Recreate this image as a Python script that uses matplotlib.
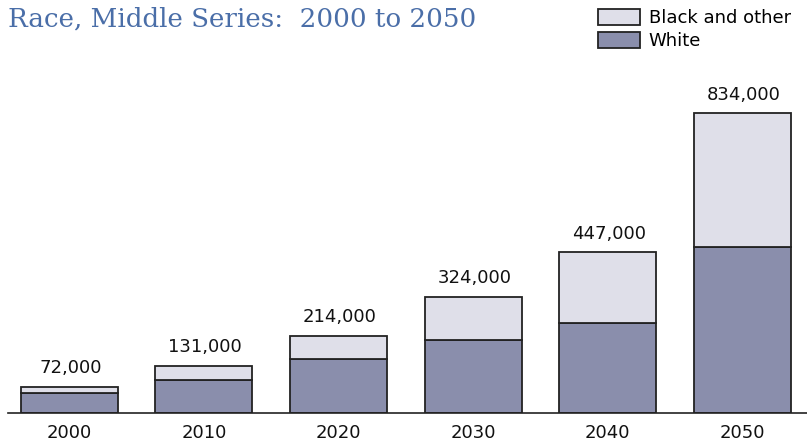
import matplotlib.pyplot as plt
from matplotlib.patches import Patch

# data
years = ["2000", "2010", "2020", "2030", "2040", "2050"]
totals = [72000, 131000, 214000, 324000, 447000, 834000]
white = [56000, 93000, 150000, 202000, 250000, 463000]
other = [t - w for t, w in zip(totals, white)]

c_white = "#8a8eac"
c_other = "#dfdfe9"
c_edge = "#222222"
sans = "DejaVu Sans"

fig = plt.figure(figsize=(8.07, 4.44), dpi=100)
W, H = 807, 444
# axes from x=8 to 807, baseline at y=413
ax = fig.add_axes([8 / W, 1 - 413 / H, 799 / W, (413 - 60) / H])

x = range(len(years))
bw = 0.72
ax.bar(x, white, width=bw, color=c_white, edgecolor=c_edge, linewidth=1.3)
ax.bar(x, other, bottom=white, width=bw, color=c_other, edgecolor=c_edge, linewidth=1.3)

ymax = 834000 * (413 - 60) / 299.7
ax.set_ylim(0, ymax)
ax.set_xlim(-0.455, 5.48)

for i, t in enumerate(totals):
    ax.annotate(f"{t:,}", (i, t), xytext=(1, 7), textcoords="offset points",
                ha="center", va="bottom", fontsize=13, family=sans, color="#111111")

for s in ["top", "right", "left"]:
    ax.spines[s].set_visible(False)
ax.spines["bottom"].set_linewidth(1.2)
ax.spines["bottom"].set_color("#222222")
ax.set_yticks([])
ax.set_xticks(list(x))
ax.set_xticklabels(years, fontsize=13, family=sans, color="#111111")
ax.tick_params(axis="x", length=0, pad=8)

fig.text(8 / W, 1 - 19 / H, "Race, Middle Series:  2000 to 2050", ha="left", va="center",
         fontsize=18.8, family="DejaVu Serif", color="#4a6ea8")

handles = [Patch(facecolor=c_other, edgecolor=c_edge, linewidth=1.3),
           Patch(facecolor=c_white, edgecolor=c_edge, linewidth=1.3)]
fig.legend(handles, ["Black and other", "White"], loc="upper left",
           bbox_to_anchor=(598 / W, 1 - 9 / H), frameon=False, borderpad=0,
           borderaxespad=0, handlelength=2.3, handleheight=0.95, labelspacing=0.28,
           handletextpad=0.5, prop={"family": sans, "size": 13})

fig.savefig("out.png", dpi=100)
